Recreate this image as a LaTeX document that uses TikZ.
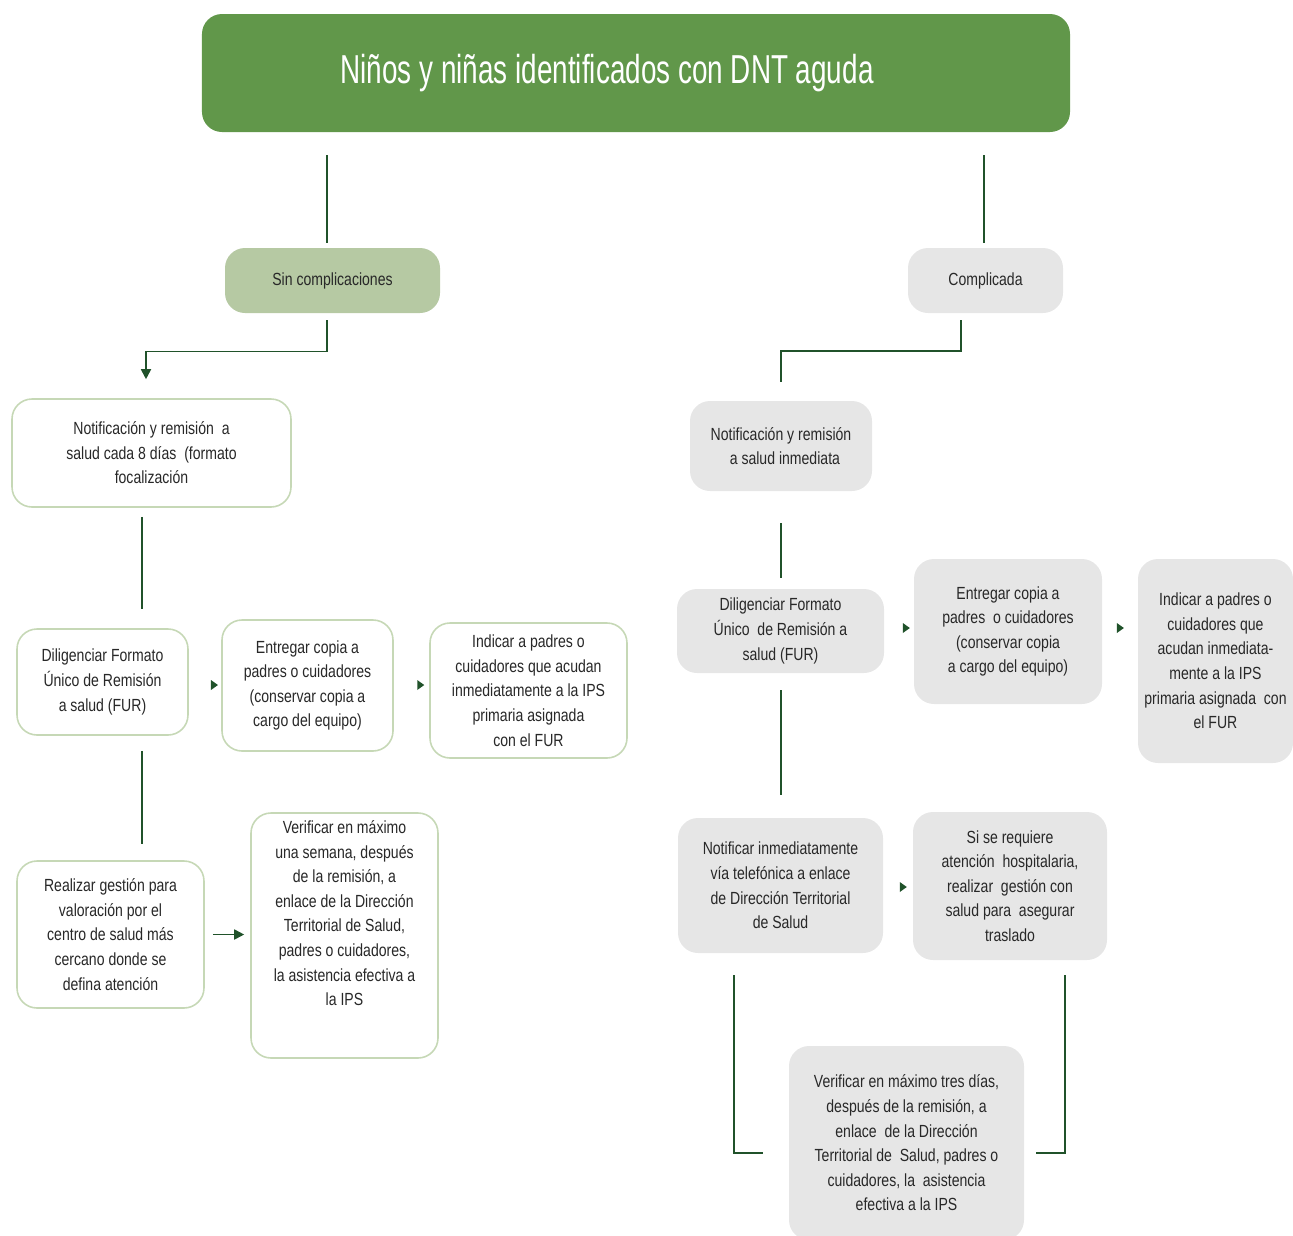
\documentclass[tikz,border=0pt]{standalone}
\usepackage{fontspec}
\setmainfont[FakeStretch=0.8]{Liberation Sans}
\newfontfamily\titlefont[FakeStretch=0.69]{Liberation Sans}
\usepackage{xcolor}
\usetikzlibrary{arrows.meta, positioning, calc}
\definecolor{DNTGreen}{RGB}{97, 151, 74}
\definecolor{DNTSoft}{RGB}{182, 201, 163}
\definecolor{DNTEdge}{RGB}{198, 216, 182}
\definecolor{DNTGray}{RGB}{230, 230, 230}
\definecolor{DNTLine}{RGB}{32, 82, 42}
\definecolor{DNTText}{RGB}{40, 40, 40}

\tikzset{
  box/.style={rounded corners=4mm, align=center, inner sep=1mm, text=DNTText,
              font=\fontsize{10}{14}\selectfont},
  openbox/.style={box, fill=white, draw=DNTEdge, line width=0.9pt},
  graybox/.style={box, fill=DNTGray},
  link/.style={draw=DNTLine, line width=1pt},
  tip/.style={link, -{Triangle[length=2mm, width=2mm]}},
  head/.style={fill=DNTLine},
}

\begin{document}
\begin{tikzpicture}[x=0.2mm, y=-0.2mm]
  \useasboundingbox (0,0) rectangle (1293,1235);

  % title and the two branches
  \node[rounded corners=4mm, fill=DNTGreen, minimum width=173.6mm, minimum height=23.6mm,
        text=white, font=\titlefont\fontsize{23}{26}\selectfont] (title) at (636,73)
        {\hspace*{-11.6mm}Niños y niñas identificados con DNT aguda};
  \node[box, fill=DNTSoft, minimum width=43mm, minimum height=13mm] (sin) at (332.5,280.5)
        {Sin complicaciones};
  \node[graybox, minimum width=31mm, minimum height=13mm] (comp) at (985.5,280.5)
        {Complicada};

  % left column
  \node[openbox, minimum width=55.8mm, minimum height=21.6mm] (notL) at (151.5,453)
        {Notificación y remisión\ \ a\\salud cada 8 días\ \ (formato\\focalización};
  \node[openbox, minimum width=34.2mm, minimum height=21.2mm] (dilL) at (102.5,682)
        {Diligenciar Formato\\Único de Remisión\\a salud (FUR)};
  \node[openbox, minimum width=34.2mm, minimum height=26.2mm] (entL) at (307.5,685.5)
        {Entregar copia a\\padres o cuidadores\\(conservar copia a\\cargo del equipo)};
  \node[openbox, minimum width=39.4mm, minimum height=27mm] (indL) at (528.5,690.5)
        {Indicar a padres o\\cuidadores que acudan\\inmediatamente a la IPS\\primaria asignada\\con el FUR};
  \node[openbox, minimum width=37.4mm, minimum height=29.4mm] (reaL) at (110.5,934.5)
        {Realizar gestión para\\valoración por el\\centro de salud más\\cercano donde se\\defina atención};
  \node[openbox, minimum width=37.4mm, minimum height=49mm] (verL) at (344.5,935.5)
        {Verificar en máximo\\una semana, después\\de la remisión, a\\enlace de la Dirección\\Territorial de Salud,\\padres o cuidadores,\\la asistencia efectiva a\\la IPS\\[4mm]};

  % right column
  \node[graybox, minimum width=36.4mm, minimum height=18mm] (notR) at (781,446)
        {Notificación y remisión\\\ \ a salud inmediata};
  \node[graybox, minimum width=41.4mm, minimum height=16.8mm] (dilR) at (780.5,631)
        {Diligenciar Formato\\Único\ \ de Remisión a\\salud (FUR)};
  \node[graybox, minimum width=37.6mm, minimum height=29mm] (entR) at (1008,631.5)
        {Entregar copia a\\padres\ \ o cuidadores\\(conservar copia\\a cargo del equipo)};
  \node[graybox, minimum width=31mm, minimum height=40.8mm] (indR) at (1215.5,661)
        {Indicar a padres o\\cuidadores que\\acudan inmediata-\\mente a la IPS\\primaria asignada\ \ con\\el FUR};
  \node[graybox, minimum width=41mm, minimum height=27mm] (ntfR) at (780.5,885.5)
        {Notificar inmediatamente\\vía telefónica a enlace\\de Dirección Territorial\\de Salud};
  \node[graybox, minimum width=38.8mm, minimum height=29.6mm] (sisR) at (1010,886)
        {Si se requiere\\atención\ \ hospitalaria,\\realizar\ \ gestión con\\salud para\ \ asegurar\\traslado};
  \node[graybox, minimum width=47mm, minimum height=38.8mm] (verR) at (906.5,1143)
        {Verificar en máximo tres días,\\después de la remisión, a\\enlace\ \ de la Dirección\\Territorial de\ \ Salud, padres o\\cuidadores, la\ \ asistencia\\efectiva a la IPS};

  % columns of the connectors
  \coordinate (sinX) at (327,0);
  \coordinate (compX) at (984,0);
  \coordinate (compY) at (961,0);
  \coordinate (notLX) at (146,0);
  \coordinate (stemL) at (142,0);
  \coordinate (brkL) at (734,0);
  \coordinate (brkR) at (1065,0);
  \coordinate (elbL) at ($(sin.south)!.45!(notL.north)$);
  \coordinate (elbR) at ($(comp.south)!.43!(notR.north)$);

  \draw[link, shorten <=4.6mm, shorten >=1mm] (title.south -| sinX) -- (sin.north -| sinX);
  \draw[link, shorten <=4.6mm, shorten >=1mm] (title.south -| compX) -- (comp.north -| compX);
  \draw[tip, shorten <=1.4mm, shorten >=3.8mm] (sin.south -| sinX) |- (elbL -| notLX) -- (notL.north -| notLX);
  \draw[link, shorten <=1.4mm, shorten >=3.8mm] (comp.south -| compY) |- (elbR -| notR) -- (notR.north);

  \draw[link, shorten <=1.8mm, shorten >=3.8mm] (notL.south -| stemL) -- (dilL.north -| stemL);
  \draw[link, shorten <=3mm, shorten >=3.2mm] (dilL.south -| stemL) -- (reaL.north -| stemL);
  \draw[tip, shorten <=1.6mm, shorten >=1.2mm] (reaL.east) -- (reaL.east -| verL.west);

  % small heads between the boxes of a row
  \coordinate (rowL) at (0,685);
  \coordinate (rowR) at (0,628);
  \coordinate (rowN) at (0,887);
  \fill[head] ($(dilL.east |- rowL)!.9!(entL.west |- rowL)$) -- ++(-7,-5) -- ++(0,10) -- cycle;
  \fill[head] ($(entL.east |- rowL)!.86!(indL.west |- rowL)$) -- ++(-7,-5) -- ++(0,10) -- cycle;
  \fill[head] ($(dilR.east |- rowR)!.87!(entR.west |- rowR)$) -- ++(-7,-5) -- ++(0,10) -- cycle;
  \fill[head] ($(entR.east |- rowR)!.61!(indR.west |- rowR)$) -- ++(-7,-5) -- ++(0,10) -- cycle;
  \fill[head] ($(ntfR.east |- rowN)!.8!(sisR.west |- rowN)$) -- ++(-7,-5) -- ++(0,10) -- cycle;

  \draw[link, shorten <=6.4mm, shorten >=2.2mm] (notR.south) -- (dilR.north -| notR);
  \draw[link, shorten <=3.4mm, shorten >=4.6mm] (dilR.south -| notR) -- (ntfR.north -| notR);
  \draw[link, shorten <=4.4mm, shorten >=5.2mm] (ntfR.south -| brkL) |- ([yshift=-2mm]verR.west);
  \draw[link, shorten <=3mm, shorten >=2.4mm] (sisR.south -| brkR) |- ([yshift=-2mm]verR.east);
\end{tikzpicture}
\end{document}
